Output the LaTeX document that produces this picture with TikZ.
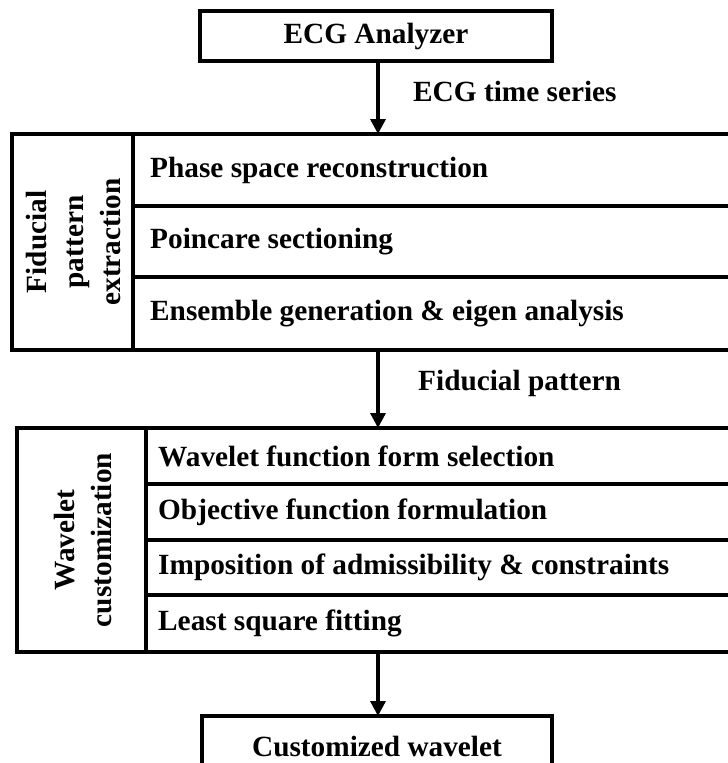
\documentclass[tikz,border=0pt]{standalone}
\usepackage{fontspec}
\setmainfont{Liberation Serif}
\usetikzlibrary{arrows.meta}
\begin{document}
\begin{tikzpicture}[x=1pt,y=-1pt,
  box/.style={draw,line width=3.3pt,inner sep=0pt,outer sep=0pt,anchor=north west},
  txt/.style={font=\fontsize{29.3}{35}\selectfont\bfseries,inner sep=0pt},
  vtxt/.style={font=\fontsize{29.3}{37}\selectfont\bfseries,inner sep=0pt,rotate=90,align=center},
  conn/.style={line width=3.3pt,-{Triangle[length=15pt,width=15pt]}}]
\useasboundingbox (0,0) rectangle (728,763);
\clip (0,0) rectangle (728,763);
% top box
\node[box,minimum width=352pt,minimum height=50pt,txt] (ecg) at (200,11) {ECG Analyzer};
% block 1
\node[box,minimum width=121pt,minimum height=216pt] (l1) at (12,134) {};
\node[vtxt] (l1t) at ([xshift=1pt]l1.center) {Fiducial\\pattern\\extraction};
\node[box,minimum width=650pt,minimum height=72pt] (r11) at (133,134) {};
\node[box,minimum width=650pt,minimum height=71pt] (r12) at (133,206) {};
\node[box,minimum width=650pt,minimum height=73pt] (r13) at (133,277) {};
\node[txt,anchor=west] (t11) at ([xshift=17pt]r11.west) {Phase space reconstruction};
\node[txt,anchor=west] (t12) at ([xshift=17pt]r12.west) {Poincare sectioning};
\node[txt,anchor=west] (t13) at ([xshift=17pt]r13.west) {Ensemble generation \& eigen analysis};
% block 2
\node[box,minimum width=129pt,minimum height=224pt] (l2) at (17,428) {};
\node[vtxt] (l2t) at ([xshift=2pt]l2.center) {Wavelet\\customization};
\node[box,minimum width=640pt,minimum height=56pt] (r21) at (146,428) {};
\node[box,minimum width=640pt,minimum height=56pt] (r22) at (146,484) {};
\node[box,minimum width=640pt,minimum height=55pt] (r23) at (146,540) {};
\node[box,minimum width=640pt,minimum height=57pt] (r24) at (146,595) {};
\node[txt,anchor=west] (t21) at ([xshift=12pt]r21.west) {Wavelet function form selection};
\node[txt,anchor=west] (t22) at ([xshift=12pt]r22.west) {Objective function formulation};
\node[txt,anchor=west] (t23) at ([xshift=12pt]r23.west) {Imposition of admissibility \& constraints};
\node[txt,anchor=west] (t24) at ([xshift=12pt]r24.west) {Least square fitting};
% bottom box
\node[box,minimum width=350pt,minimum height=100pt] (cw) at (202,716) {};
\node[txt] (cwt) at (377,747) {Customized wavelet};
% connectors
\coordinate (a0) at (378,61);
\coordinate (a01) at (378,134);
\coordinate (a1) at (378,350);
\coordinate (a2) at (378,428);
\coordinate (a3) at (378,652);
\coordinate (a4) at (378,716);
\draw[conn] (a0) -- (a01);
\draw[conn] (a1) -- (a2);
\draw[conn] (a3) -- (a4);
% labels
\node[txt,anchor=west] (lab1) at (413,91) {ECG time series};
\node[txt,anchor=west] (lab2) at (418,383) {Fiducial pattern};
\end{tikzpicture}
\end{document}
